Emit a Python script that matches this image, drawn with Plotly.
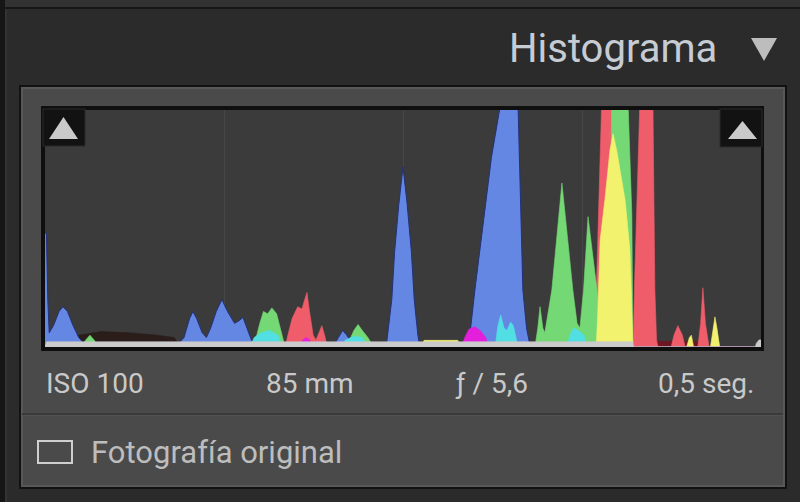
import plotly.graph_objects as go

# ---------------- data (levels 0-255, counts in % of histogram height) ----------------
blue_x = [0, 0.5, 1, 1.5, 3, 5, 6.4, 8, 10, 12, 13.5, 16, 48, 49.5, 51.5, 52.7, 54, 56, 57.5, 59, 61, 63, 65,
          67.5, 69, 70.5, 72, 73.5, 75, 103, 104.5, 106, 107.5, 109, 110, 121.5, 122, 123.5, 124.5, 126, 127.5,
          129, 130.5, 131.5, 132.8, 133.5, 150.5, 151.3, 153.1, 156, 159, 162.6, 168.4, 170.2, 171.5, 172.5,
          173.5, 255]
blue_y = [48, 48, 20, 6, 9, 15, 17, 15, 9, 4, 2, 2, 2, 4, 12, 15, 12, 6, 4, 8, 15, 20, 15,
          10, 11, 12.5, 8, 3, 1, 1, 4, 7, 5, 2, 0, 0, 5, 20, 40, 60, 76,
          60, 40, 20, 5, 0, 0, 5, 24, 52, 80, 105, 105, 24, 8, 2,
          0, 0]

green_x = [0, 13, 14.5, 16, 17.5, 19, 73.5, 75, 76.5, 77.8, 79.3, 80.8, 82.5, 84.3, 85.5, 107, 108.5, 110,
           111.5, 113, 115, 117, 174.5, 175.5, 176.3, 177.3, 178, 180.5, 184.1, 188, 189.5, 190.5, 191.8,
           193.4, 195, 197, 199, 201.2, 201.8, 207.6, 209, 209.2, 209.4, 255]
green_y = [0, 0, 3, 5, 3, 0, 0, 3, 10, 15, 14, 16.5, 14, 5, 0, 0, 3, 7,
           9.5, 7, 4, 0, 0, 8, 17, 8, 6, 24, 69.2, 24, 10, 8, 24,
           55, 40, 20, 10, 12, 105, 105, 56, 20, 0, 0]

red_x = [0, 85.5, 86.5, 88, 90, 91.5, 92.5, 93.3, 94.2, 95.5, 96.5, 97.5, 98.6, 99.8, 100.5, 195.8, 196.3,
         197, 197.8, 198.3, 201.9, 203, 205, 208, 209.3, 209.5, 209.9, 211, 211.9, 216.5, 217.2, 217.8,
         218.3, 223, 224, 225.4, 227, 228, 232.5, 233.5, 234.3, 235.2, 236.5, 255]
red_y = [0, 0, 5, 12, 17, 16, 20, 23, 15, 5, 3, 6, 9, 4, 0, 0, 20,
         50, 80, 105, 105, 80, 40, 10, 0, 0, 24, 70, 105, 105, 24, 3,
         0, 0, 5, 9, 5, 0, 0, 10, 25, 10, 0, 0]

darkred_x = [0, 209.5, 210, 232, 232.5, 255]
darkred_y = [0, 0, 2.4, 2.4, 0, 0]

brown_x = [0, 11, 12, 20, 30, 40, 46, 48, 255]
brown_y = [0, 0, 5, 6.5, 6, 5, 4, 0, 0]

yellow_x = [0, 134, 135, 147, 148, 196.3, 196.8, 197.2, 197.7, 199.4, 201.2, 202.3, 203.6, 206.6, 208.3,
            208.8, 209.2, 209.4, 228.5, 229.5, 230.2, 231, 237, 238, 238.6, 239.3, 240.3, 255]
yellow_y = [0, 0, 2.8, 2.8, 0, 0, 12, 30, 45, 62, 83, 90, 83, 62, 41,
            24, 3, 0, 0, 4, 5, 0, 0, 8, 12.7, 8, 0, 0]

cyan_x = [0, 73, 74.5, 77, 80, 83, 84.5, 105.5, 107, 110, 113, 115, 160.3, 161.3, 162.3, 163.5, 164.5,
          165.8, 166.8, 167.8, 168.5, 185.5, 187, 188.2, 190, 192, 193, 255]
cyan_y = [0, 0, 4, 6, 7, 5, 0, 0, 3, 4.5, 4, 0, 0, 9, 13.5, 8, 7,
          10.5, 9, 3, 0, 0, 5, 8, 7, 5, 0, 0]

magenta_x = [0, 91, 91.8, 93, 94.3, 95, 148.3, 149.5, 151, 153, 155, 157, 158, 255]
magenta_y = [0, 0, 3, 4, 3, 0, 0, 4, 7.5, 8.5, 7, 4, 0, 0]

gray_x = [0, 0.5, 209.3, 209.6, 253, 253.3, 254.3, 255]
gray_y = [0, 2.2, 2.2, 0, 0, 1.5, 3, 3]

grid_levels = [63.75, 127.5, 191.25]

panel_title = "Histograma"
exif_labels = ["ISO 100", "85 mm", "ƒ / 5,6", "0,5 seg."]
checkbox_label = "Fotografía original"

# ---------------- layout geometry (pixels) ----------------
W, H = 800, 502
PL, PR, PT, PB = 45, 761, 110, 347   # plot interior in pixels


def px(x):
    return (x - PL) / (PR - PL)


def py(y):
    return (PB - y) / (PB - PT)


def rect(x0, y0, x1, y1, fill, line=None, lw=0, layer="below"):
    return dict(type="rect", xref="paper", yref="paper", x0=px(x0), x1=px(x1), y0=py(y1), y1=py(y0),
                fillcolor=fill, line=dict(color=line or fill, width=lw), layer=layer)


def tri(pts, fill, layer="above"):
    path = "M " + " L ".join(f"{px(a)},{py(b)}" for a, b in pts) + " Z"
    return dict(type="path", xref="paper", yref="paper", path=path, fillcolor=fill,
                line=dict(width=0), layer=layer)


fig = go.Figure()


def area(xs, ys, color, lw=0.6, lc=None):
    fig.add_trace(go.Scatter(x=xs, y=ys, mode="lines", fill="tozeroy", fillcolor=color,
                             line=dict(color=lc or color, width=lw), hoverinfo="skip"))


area(brown_x, brown_y, "#2a1d1a")
area(blue_x, blue_y, "#6487e4", lw=1, lc="#23317a")
area(darkred_x, darkred_y, "#6e1622")
area(red_x, red_y, "#ef5d6a")
area(green_x, green_y, "#74d874")
area(yellow_x, yellow_y, "#f3f26e")
area(cyan_x, cyan_y, "#52dfe4")
area(magenta_x, magenta_y, "#e41fdc")
area(gray_x, gray_y, "#cbcbcb")

shapes = [
    # outer frame
    rect(0, 0, 800, 8, "#323232"),
    rect(0, 7, 800, 9, "#161616"),
    rect(0, 0, 5, 502, "#161616"),
    rect(5, 9, 7, 502, "#343434"),
    # histogram panel
    rect(19, 85, 787, 489, "#121212"),
    rect(21, 87, 785, 487, "#585858"),
    rect(23, 89, 783, 485, "#4a4a4a"),
    # plot box
    rect(41, 106, 764, 351, "#0f0f0f"),
    rect(PL, PT, PR, PB, "#3b3b3b"),
    # separator line
    rect(22, 413, 783, 415, "#3a3a3a"),
    rect(22, 415, 783, 416, "#525252"),
    # checkbox
    dict(type="rect", xref="paper", yref="paper", x0=px(38), x1=px(72), y0=py(463), y1=py(441),
         line=dict(color="#cfcfcf", width=2), fillcolor="rgba(0,0,0,0)", layer="above"),
    # clipping indicators
    rect(43, 109, 85, 146, "#121212", line="#2a2a2a", lw=1, layer="above"),
    rect(720, 109, 762, 147, "#121212", line="#2a2a2a", lw=1, layer="above"),
    tri([(49, 139), (78, 139), (63.5, 117)], "#cacaca"),
    tri([(728, 139), (757, 139), (742.5, 121)], "#cacaca"),
    # header collapse triangle
    tri([(751, 38), (777, 38), (764, 61)], "#bdbdbd"),
]

ann_font = dict(family="Roboto, 'Noto Sans', sans-serif", size=28, color="#c9c9c9")
annotations = [
    dict(text=panel_title, x=px(719), y=py(48), xanchor="right", yanchor="middle",
         font=dict(family="Roboto, 'Noto Sans', sans-serif", size=40, color="#c6ccd4")),
    dict(text=exif_labels[0], x=px(44), y=py(383), xanchor="left", yanchor="middle", font=ann_font),
    dict(text=exif_labels[1], x=px(310), y=py(383), xanchor="center", yanchor="middle", font=ann_font),
    dict(text=exif_labels[2], x=px(491), y=py(383), xanchor="center", yanchor="middle", font=ann_font),
    dict(text=exif_labels[3], x=px(756), y=py(383), xanchor="right", yanchor="middle", font=ann_font),
    dict(text=checkbox_label, x=px(89), y=py(452), xanchor="left", yanchor="middle",
         font=dict(family="Roboto, 'Noto Sans', sans-serif", size=31, color="#bdbdbd")),
]
for a in annotations:
    a.update(xref="paper", yref="paper", showarrow=False)

fig.update_layout(
    width=W, height=H,
    margin=dict(l=PL, r=W - PR, t=PT, b=H - PB, pad=0),
    paper_bgcolor="#2b2b2b",
    plot_bgcolor="rgba(0,0,0,0)",
    showlegend=False,
    shapes=shapes,
    annotations=annotations,
    xaxis=dict(range=[0, 255], tickvals=grid_levels, showticklabels=False, ticks="",
               showgrid=True, gridcolor="#474747", gridwidth=1, zeroline=False, showline=False,
               fixedrange=True),
    yaxis=dict(range=[0, 100], showticklabels=False, ticks="", showgrid=False, zeroline=False,
               showline=False, fixedrange=True),
)

fig.write_html("out.html", config=dict(displayModeBar=False),
               post_script="document.body.style.margin='0';document.body.style.background='#2b2b2b';")
